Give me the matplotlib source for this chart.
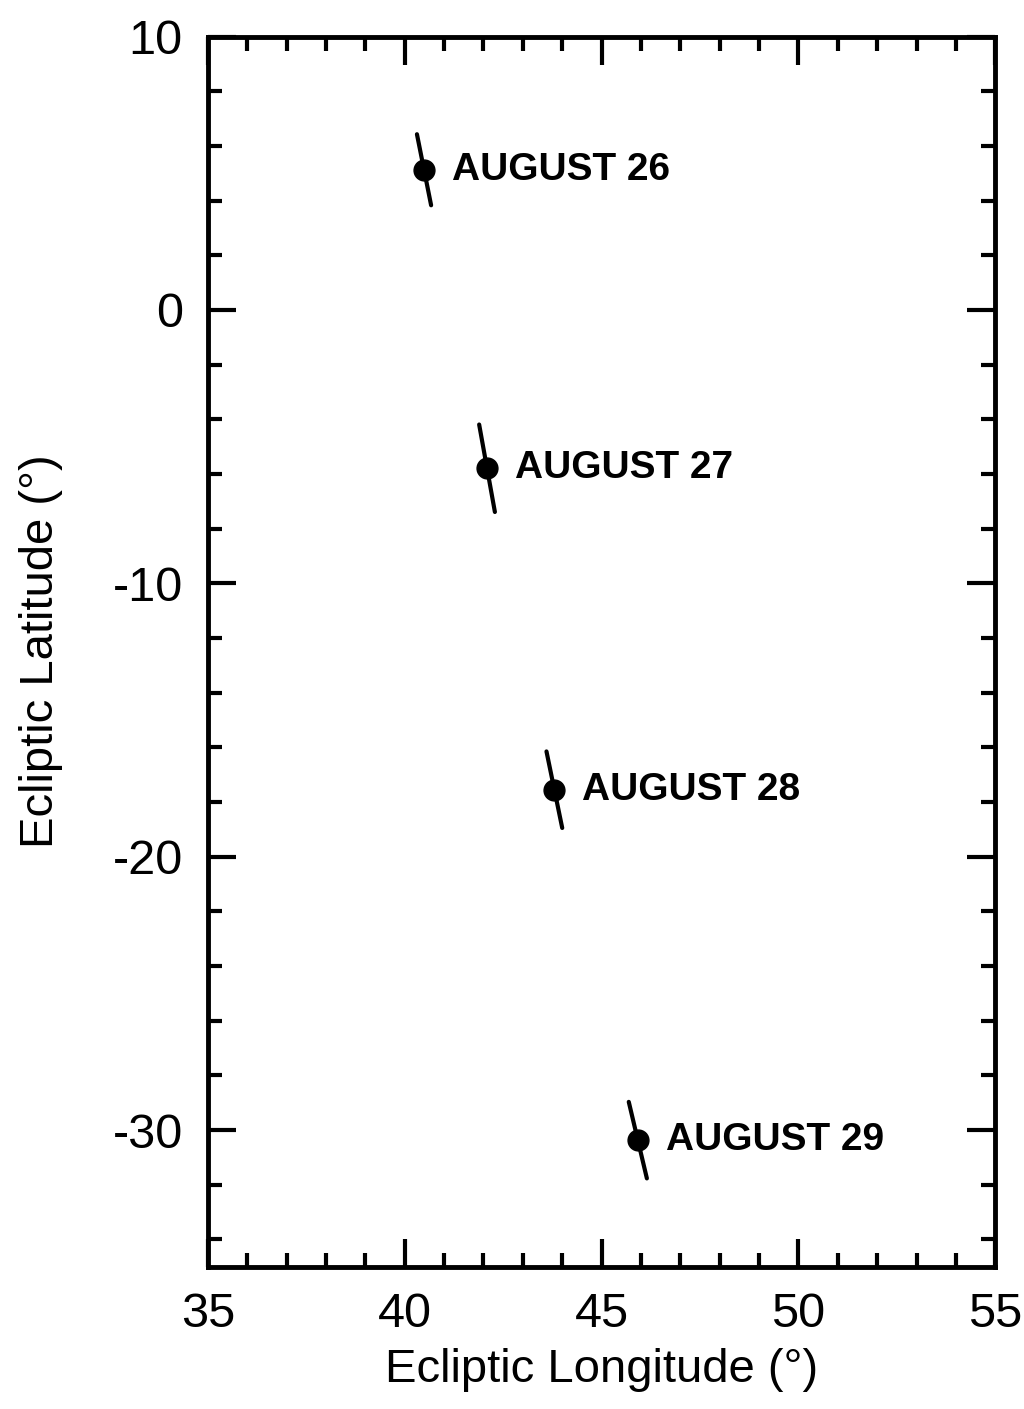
import matplotlib
matplotlib.use("Agg")
import matplotlib.pyplot as plt
from matplotlib.ticker import MultipleLocator

plt.rcParams["font.family"] = ["Liberation Sans", "DejaVu Sans"]
plt.rcParams["axes.unicode_minus"] = False

# Daily positions with the tilted uncertainty segments
dates = ["AUGUST 26", "AUGUST 27", "AUGUST 28", "AUGUST 29"]
longitude = [40.49, 42.09, 43.80, 45.92]
latitude = [5.13, -5.79, -17.55, -30.37]
lat_half = [1.30, 1.60, 1.40, 1.40]   # half-length of segment in latitude
lon_half = [0.18, 0.20, 0.20, 0.23]   # longitude shift of segment end

fig = plt.figure(figsize=(10.24, 14.09), dpi=100)
ax = fig.add_axes([0.203, 0.101, 0.769, 0.873])

for x, y, dy, dx, name in zip(longitude, latitude, lat_half, lon_half, dates):
    ax.plot([x - dx, x + dx], [y + dy, y - dy], color="black", lw=3,
            solid_capstyle="round", zorder=3)
    ax.plot(x, y, "o", color="black", markersize=15, zorder=4)
    ax.annotate(name, (x, y), xytext=(20, 0), textcoords="offset points",
                fontsize=28, fontweight="bold", va="center", ha="left")

ax.set_xlim(35, 55)
ax.set_ylim(-35, 10)
ax.xaxis.set_major_locator(MultipleLocator(5))
ax.xaxis.set_minor_locator(MultipleLocator(1))
ax.yaxis.set_major_locator(MultipleLocator(10))
ax.yaxis.set_minor_locator(MultipleLocator(2))

ax.tick_params(which="both", direction="in", top=True, right=True,
               width=3, labelsize=35)
ax.tick_params(which="major", length=20, pad=18)
ax.tick_params(which="minor", length=10)
for s in ax.spines.values():
    s.set_linewidth(3.5)

ax.set_xlabel("Ecliptic Longitude (°)", fontsize=34, labelpad=8)
ax.set_ylabel("Ecliptic Latitude (°)", fontsize=34, labelpad=36)

fig.savefig("out.png", dpi=100, facecolor="white")
